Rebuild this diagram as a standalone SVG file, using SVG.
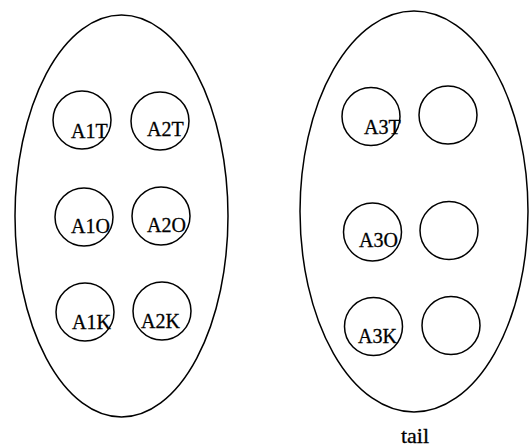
<svg xmlns="http://www.w3.org/2000/svg" width="530" height="448" viewBox="0 0 530 448">
<style>
.sh{fill:none;stroke:#000;stroke-width:1.5}
.t{font-family:"Liberation Serif","Times New Roman",serif;font-size:20px;fill:#000;stroke:#000;stroke-width:0.3}
</style>
<rect width="530" height="448" fill="#fff"/>
<g id="group-left">
<ellipse class="sh" cx="121.5" cy="216" rx="106.5" ry="201"/>
</g>
<g id="group-right">
<ellipse class="sh" cx="414" cy="211.5" rx="114" ry="200.5"/>
</g>
<g id="A1T"><circle class="sh" cx="82" cy="120" r="29"/><text class="t" x="71" y="138">A1T</text></g>
<g id="A2T"><circle class="sh" cx="160" cy="121" r="29"/><text class="t" x="147" y="136">A2T</text></g>
<g id="A1O"><circle class="sh" cx="84" cy="217" r="29"/><text class="t" x="71" y="233">A1O</text></g>
<g id="A2O"><circle class="sh" cx="161" cy="216" r="29"/><text class="t" x="147" y="232">A2O</text></g>
<g id="A1K"><circle class="sh" cx="85" cy="312" r="29"/><text class="t" x="72" y="329">A1K</text></g>
<g id="A2K"><circle class="sh" cx="162" cy="311" r="29"/><text class="t" x="141" y="328">A2K</text></g>
<g id="A3T"><circle class="sh" cx="371" cy="116.5" r="29"/><text class="t" x="364" y="134">A3T</text></g>
<g id="empty-1"><circle class="sh" cx="448" cy="115" r="29"/></g>
<g id="A3O"><circle class="sh" cx="372.5" cy="232" r="29"/><text class="t" x="359" y="247">A3O</text></g>
<g id="empty-2"><circle class="sh" cx="449" cy="230.5" r="29"/></g>
<g id="A3K"><circle class="sh" cx="373.5" cy="326.5" r="29"/><text class="t" x="358" y="343">A3K</text></g>
<g id="empty-3"><circle class="sh" cx="451" cy="325.5" r="29"/></g>
<g id="connectors"></g>
<text class="t" x="415" y="443" text-anchor="middle" style="font-size:22px">tail</text>
</svg>
